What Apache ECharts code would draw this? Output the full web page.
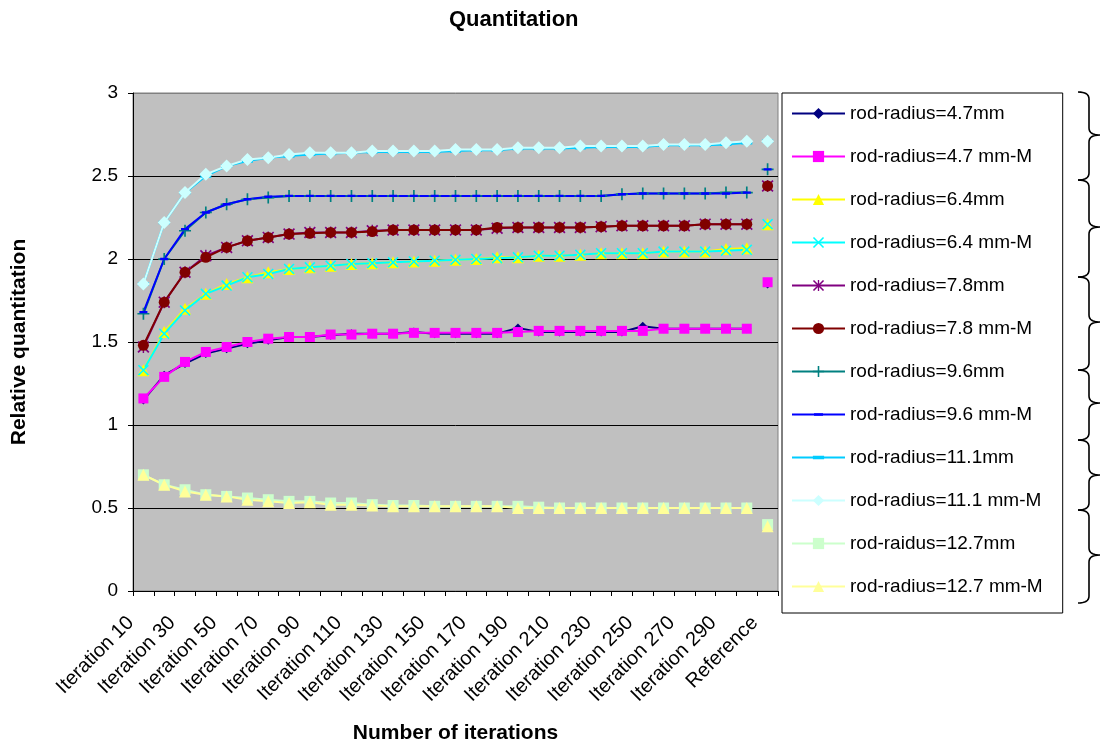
<!DOCTYPE html>
<html><head><meta charset="utf-8">
<script src="https://cdn.jsdelivr.net/npm/echarts@6/dist/echarts.min.js"></script>
<style>html,body{margin:0;padding:0;background:#fff}#chart{width:1103px;height:746px}</style>
</head><body><div id="chart"></div>
<script>
const categories = ['Iteration 10','Iteration 20','Iteration 30','Iteration 40','Iteration 50','Iteration 60','Iteration 70','Iteration 80','Iteration 90','Iteration 100','Iteration 110','Iteration 120','Iteration 130','Iteration 140','Iteration 150','Iteration 160','Iteration 170','Iteration 180','Iteration 190','Iteration 200','Iteration 210','Iteration 220','Iteration 230','Iteration 240','Iteration 250','Iteration 260','Iteration 270','Iteration 280','Iteration 290','Iteration 300','Reference'];
const yTicks = [0, 0.5, 1, 1.5, 2, 2.5, 3];
const seriesNames = ['rod-radius=4.7mm','rod-radius=4.7 mm-M','rod-radius=6.4mm','rod-radius=6.4 mm-M','rod-radius=7.8mm','rod-radius=7.8 mm-M','rod-radius=9.6mm','rod-radius=9.6 mm-M','rod-radius=11.1mm','rod-radius=11.1 mm-M','rod-raidus=12.7mm','rod-radius=12.7 mm-M'];

const r47   = [1.15,1.30,1.37,1.43,1.46,1.49,1.51,1.53,1.53,1.54,1.55,1.55,1.55,1.56,1.55,1.55,1.55,1.55,1.585,1.56,1.56,1.56,1.56,1.56,1.595,1.58,1.58,1.58,1.58,1.58];
const r47M  = [1.16,1.29,1.38,1.44,1.47,1.50,1.52,1.53,1.53,1.545,1.545,1.55,1.55,1.555,1.555,1.555,1.555,1.555,1.56,1.567,1.567,1.567,1.567,1.567,1.567,1.58,1.58,1.58,1.58,1.58];
const r64   = [1.33,1.56,1.70,1.79,1.85,1.89,1.92,1.94,1.95,1.96,1.97,1.975,1.98,1.985,1.99,1.995,2.00,2.01,2.01,2.02,2.02,2.025,2.035,2.035,2.035,2.045,2.045,2.045,2.06,2.065];
const r64M  = [1.33,1.55,1.69,1.79,1.84,1.89,1.91,1.94,1.95,1.96,1.97,1.975,1.98,1.985,1.99,1.995,2.00,2.005,2.01,2.02,2.02,2.025,2.035,2.035,2.035,2.045,2.045,2.045,2.05,2.055];
const r78   = [1.47,1.74,1.92,2.02,2.07,2.11,2.13,2.15,2.16,2.16,2.16,2.17,2.175,2.175,2.175,2.175,2.175,2.185,2.19,2.19,2.19,2.19,2.195,2.20,2.20,2.20,2.20,2.21,2.21,2.21];
const r78M  = [1.48,1.74,1.92,2.01,2.07,2.11,2.13,2.15,2.155,2.16,2.16,2.165,2.175,2.175,2.175,2.175,2.175,2.19,2.19,2.19,2.19,2.19,2.195,2.20,2.20,2.20,2.20,2.21,2.21,2.21];
const r96   = [1.67,2.00,2.17,2.28,2.33,2.36,2.37,2.38,2.38,2.38,2.38,2.38,2.38,2.38,2.38,2.38,2.38,2.38,2.38,2.38,2.38,2.38,2.38,2.39,2.395,2.395,2.395,2.395,2.40,2.40];
const r96M  = [1.68,2.00,2.18,2.28,2.33,2.36,2.375,2.38,2.38,2.38,2.38,2.38,2.38,2.38,2.38,2.38,2.38,2.38,2.38,2.38,2.38,2.38,2.38,2.39,2.395,2.395,2.395,2.395,2.395,2.40];
const r111  = [1.85,2.22,2.40,2.50,2.56,2.59,2.61,2.62,2.63,2.635,2.64,2.645,2.645,2.645,2.645,2.65,2.655,2.655,2.665,2.665,2.665,2.67,2.675,2.675,2.675,2.685,2.685,2.685,2.69,2.70];
const r111M = [1.85,2.22,2.40,2.51,2.56,2.60,2.61,2.63,2.64,2.64,2.64,2.65,2.65,2.65,2.65,2.66,2.66,2.66,2.67,2.67,2.67,2.68,2.68,2.68,2.68,2.69,2.69,2.69,2.70,2.71];
const r127  = [0.70,0.64,0.61,0.58,0.57,0.56,0.55,0.54,0.54,0.53,0.53,0.52,0.515,0.515,0.51,0.51,0.51,0.51,0.51,0.505,0.50,0.50,0.50,0.50,0.50,0.50,0.50,0.50,0.50,0.50];
const r127M = [0.70,0.64,0.60,0.58,0.57,0.55,0.54,0.53,0.535,0.52,0.52,0.515,0.51,0.51,0.51,0.51,0.51,0.51,0.50,0.50,0.50,0.50,0.50,0.50,0.50,0.50,0.50,0.50,0.50,0.50];
const referenceValues = [1.85,1.86,2.21,2.21,2.44,2.44,2.54,2.54,2.71,2.71,0.40,0.39];

const seriesValues = [r47, r47M, r64, r64M, r78, r78M, r96, r96M, r111, r111M, r127, r127M];

// styling
const colors = ['#000080','#FF00FF','#FFFF00','#00FFFF','#800080','#800000','#008080','#0000FF','#00CCFF','#CCFFFF','#CCFFCC','#FFFF99'];
const X_PATH = 'path://M1,0L5,4L9,0L10,1L6,5L10,9L9,10L5,6L1,10L0,9L4,5L0,1Z';
const STAR_PATH = 'path://M1,0L5,4L9,0L10,1L6,5L10,9L9,10L5,6L1,10L0,9L4,5L0,1Z M4.4,0L5.6,0L5.6,10L4.4,10Z';
const PLUS_PATH = 'path://M4.3,0L5.7,0L5.7,4.3L10,4.3L10,5.7L5.7,5.7L5.7,10L4.3,10L4.3,5.7L0,5.7L0,4.3L4.3,4.3Z';
const DASH_PATH = 'path://M0,0L10,0L10,0Z M0,10L10,10L10,10Z M1,3.8L9,3.8L9,6.2L1,6.2Z';
const DASH2_PATH = 'path://M0,0L10,0L10,0Z M0,10L10,10L10,10Z M0,3.5L10,3.5L10,6.5L0,6.5Z';
const symbols = ['diamond','rect','triangle',X_PATH,STAR_PATH,'circle',PLUS_PATH,DASH_PATH,DASH2_PATH,'diamond','rect','triangle'];
const symbolSizes = [9,10,12,11,12,11,12,10,11,13,11,12];

const FONT = 'Arial, "Liberation Sans", sans-serif';

const mainSeries = seriesNames.map((name, k) => ({
  name: name,
  type: 'line',
  data: seriesValues[k],
  symbol: symbols[k],
  symbolSize: symbolSizes[k],
  showSymbol: true,
  showAllSymbol: true,
  color: colors[k],
  lineStyle: { color: colors[k], width: 2 },
  itemStyle: { color: colors[k], borderWidth: 0 },
  emphasis: { disabled: true },
  animation: false
}));
const refSeries = seriesNames.map((name, k) => ({
  name: name + ' (reference)',
  type: 'line',
  data: [[categories[categories.length - 1], referenceValues[k]]],
  symbol: symbols[k],
  symbolSize: symbolSizes[k],
  showSymbol: true,
  color: colors[k],
  lineStyle: { width: 0 },
  itemStyle: { color: colors[k], borderWidth: 0 },
  emphasis: { disabled: true },
  animation: false
}));

// curly braces to the right of the legend (decoration, built as polylines)
const braceBounds = [92, 180, 277, 370, 440, 510, 603];
const braceTips = [135, 227, 322, 403, 475, 555];
const bx0 = 1078, bx1 = 1089, bx2 = 1100, br = 7;
function quad(p0, p1, p2, out) {
  for (let s = 1; s <= 8; s++) {
    const t = s / 8, u = 1 - t;
    out.push([u*u*p0[0] + 2*u*t*p1[0] + t*t*p2[0], u*u*p0[1] + 2*u*t*p1[1] + t*t*p2[1]]);
  }
}
const braceGraphics = [];
for (let i = 0; i < braceTips.length; i++) {
  const t = braceBounds[i], b = braceBounds[i + 1], m = braceTips[i];
  const pts = [[bx0, t]];
  quad([bx0, t], [bx1, t], [bx1, t + br], pts);
  pts.push([bx1, m - br]);
  quad([bx1, m - br], [bx1, m], [bx2, m], pts);
  quad([bx2, m], [bx1, m], [bx1, m + br], pts);
  pts.push([bx1, b - br]);
  quad([bx1, b - br], [bx1, b], [bx0, b], pts);
  braceGraphics.push({
    type: 'polyline',
    shape: { points: pts },
    style: { stroke: '#000', fill: null, lineWidth: 1.6 },
    silent: true
  });
}

const chart = echarts.init(document.getElementById('chart'), null, { renderer: 'canvas' });
chart.setOption({
  animation: false,
  backgroundColor: '#ffffff',
  title: {
    text: 'Quantitation',
    left: 449, top: 9, padding: 0,
    textStyle: { fontFamily: FONT, fontSize: 22, fontWeight: 'bold', color: '#000' }
  },
  grid: {
    left: 133, right: 325, top: 93, bottom: 155,
    show: true, backgroundColor: '#C0C0C0', borderColor: '#808080', borderWidth: 1,
    containLabel: false, outerBoundsMode: 'none'
  },
  legend: {
    data: seriesNames,
    orient: 'vertical',
    left: 782, top: 93,
    padding: [11, 20, 17, 9],
    itemWidth: 53, itemHeight: 14, itemGap: 24.0,
    backgroundColor: '#ffffff', borderColor: '#000000', borderWidth: 1, borderRadius: 0,
    selectedMode: false,
    textStyle: { fontFamily: FONT, fontSize: 19, color: '#000', lineHeight: 18 }
  },
  xAxis: {
    type: 'category',
    data: categories,
    boundaryGap: true,
    name: 'Number of iterations',
    nameLocation: 'middle',
    nameGap: 132,
    nameTextStyle: { fontFamily: FONT, fontSize: 21, fontWeight: 'bold', color: '#000' },
    axisLine: { show: true, lineStyle: { color: '#000', width: 1 } },
    axisTick: { show: true, interval: 0, length: 5, inside: false, lineStyle: { color: '#000' } },
    axisLabel: { interval: 1, rotate: 45, margin: 16, padding: [0, 18, 0, 0], fontFamily: FONT, fontSize: 20, color: '#000', hideOverlap: false },
    splitLine: { show: false }
  },
  yAxis: {
    type: 'value',
    min: yTicks[0], max: yTicks[yTicks.length - 1], interval: 0.5,
    name: 'Relative quantitation',
    nameLocation: 'middle',
    nameRotate: 90,
    nameGap: 103,
    nameTextStyle: { fontFamily: FONT, fontSize: 21, fontWeight: 'bold', color: '#000' },
    axisLine: { show: true, lineStyle: { color: '#000', width: 1 } },
    axisTick: { show: true, length: 5, inside: false, lineStyle: { color: '#000' } },
    axisLabel: { margin: 15, fontFamily: FONT, fontSize: 19, color: '#000' },
    splitLine: { show: true, lineStyle: { color: ['#000','#000','#000','#000','#000','#000','#808080'], width: 1 } }
  },
  graphic: braceGraphics,
  series: mainSeries.concat(refSeries)
});
</script>
</body></html>
